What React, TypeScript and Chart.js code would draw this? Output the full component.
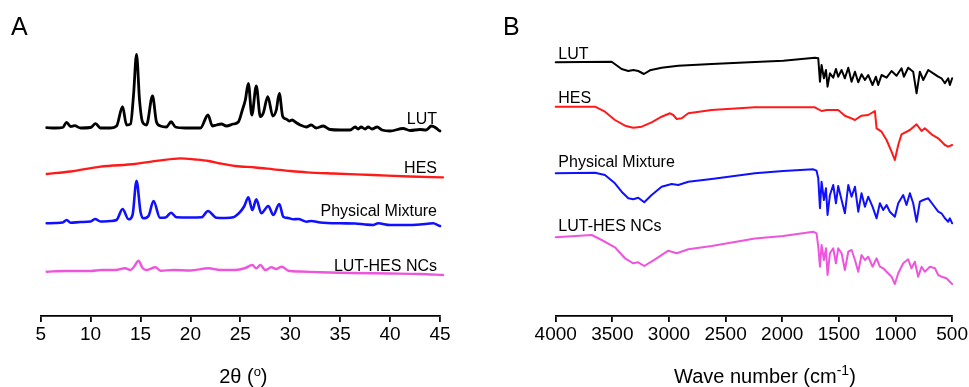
import React, { useEffect, useRef } from "react";
import { Chart, registerables } from "chart.js";

Chart.register(...registerables);

const FONT = "'Liberation Sans', Arial, Helvetica, sans-serif";

// ---------------- Panel A : XRD (2θ in degrees, intensity in a.u., traces stacked) ----------------
const xrdRange = [5, 45];
const xrdStep = 5;

const xrdLUT: [number, number][] = [
  [5.6, 188.3], [6.5, 188], [7.2, 188.5], [7.6, 193.7], [8.0, 189.5], [8.4, 190.3], [9.0, 188], [10.0, 188.5],
  [10.5, 192.3], [11.0, 188], [12.0, 188], [12.6, 190], [13.2, 209.3], [13.6, 191], [14.0, 192], [14.3, 221],
  [14.6, 261.7], [14.9, 216], [15.2, 194], [15.6, 191], [16.2, 220], [16.6, 194], [17.0, 190], [17.6, 189],
  [18.06, 194.3], [18.5, 189], [19.5, 188], [21.0, 188], [21.76, 201], [22.2, 190], [22.6, 191], [23.1, 192],
  [23.6, 190], [24.3, 192], [24.8, 194], [25.2, 206], [25.5, 216], [25.8, 232.7], [26.15, 201], [26.6, 230],
  [27.0, 199.3], [27.3, 203], [27.75, 219.3], [28.25, 200], [28.6, 206], [28.9, 222.7], [29.25, 199.3], [29.6, 197],
  [29.9, 195], [30.2, 196], [30.5, 194], [31.0, 191], [31.6, 189], [32.1, 191], [32.6, 188], [33.3, 190],
  [34.0, 186.5], [35.0, 186], [36.0, 186], [36.5, 189], [36.8, 187], [37.1, 189], [37.5, 187], [37.8, 189],
  [38.2, 187], [38.7, 189], [39.2, 186], [40.0, 185], [41.3, 187.5], [42.0, 185.5], [43.0, 186.5], [43.6, 186],
  [44.15, 190], [44.6, 188], [45.0, 185], [45.3, 185],
];

const xrdHES: [number, number][] = [
  [5.6, 142], [8.0, 144.5], [11.0, 149.3], [14.45, 152], [16.8, 155.3], [19.0, 157.7], [20.5, 156.5],
  [21.8, 155], [23.0, 152.5], [24.5, 150], [26.5, 148.5], [28.3, 146.7], [30.0, 145], [31.65, 143.7],
  [34.3, 142.5], [38.3, 141], [42.0, 139.5], [45.3, 138.7],
];

const xrdPM: [number, number][] = [
  [5.6, 92.7], [6.5, 93], [7.2, 93.5], [7.6, 96], [8.0, 93.3], [9.0, 94], [10.0, 94.5], [10.44, 97],
  [11.0, 94.5], [12.0, 95], [12.6, 96], [13.2, 107], [13.8, 96.7], [14.2, 101], [14.6, 135.3], [15.0, 104],
  [15.3, 97.7], [15.8, 100], [16.3, 115], [16.95, 98.3], [17.5, 98.5], [18.06, 103.3], [18.6, 98.7], [20.0, 98.5],
  [21.1, 98.7], [21.76, 105], [22.6, 98.3], [23.5, 98], [24.3, 98.7], [25.0, 104.3], [25.4, 110], [25.8, 118.7],
  [26.2, 106], [26.6, 116.7], [27.1, 102.7], [27.8, 110], [28.3, 101], [28.9, 112], [29.3, 99.3], [29.8, 98],
  [30.3, 96.7], [30.8, 97], [31.65, 94.3], [32.1, 95], [33.0, 93.5], [35.0, 92.7], [36.5, 92.5], [37.5, 91.5],
  [38.3, 91], [38.8, 92.7], [40.0, 91], [41.5, 91], [43.0, 91.5], [44.3, 92.7], [45.0, 90], [45.3, 89.3],
];

const xrdNC: [number, number][] = [
  [5.6, 44.3], [7.5, 45], [10.0, 45], [11.1, 46], [12.5, 46], [13.45, 47.7], [14.0, 46], [14.4, 50],
  [14.8, 55.3], [15.2, 48], [15.6, 46], [16.5, 48.7], [17.0, 45.3], [18.3, 46], [20.0, 45.5], [21.8, 47.7],
  [23.0, 46], [24.5, 46], [25.5, 48], [26.2, 51], [26.6, 47.7], [27.0, 51], [27.5, 46], [28.1, 48.7],
  [28.6, 47], [29.15, 49.3], [29.8, 45.3], [31.0, 44.5], [33.0, 43.7], [36.0, 43], [40.0, 42.5], [43.0, 42],
  [45.3, 41],
];

// label anchors (data units): [text, 2θ, intensity]
const xrdLabels: [string, number, number][] = [
  ["LUT", 44.7, 192],
  ["HES", 44.7, 143.3],
  ["Physical Mixture", 44.7, 100],
  ["LUT-HES NCs", 44.7, 45.3],
];

// ---------------- Panel B : FTIR (wave number in cm-1, transmittance in a.u., traces stacked) ----------------
const ftirRange = [500, 4000];
const ftirStep = 500;

const ftirLUT: [number, number][] = [
  [4000, 253.7], [3506, 254.3], [3418, 247], [3359, 245], [3315, 246], [3271, 245], [3221, 242], [3168, 245.7],
  [3065, 248.3], [2918, 250.3], [2623, 252], [2241, 254], [1991, 255.3], [1712, 258.3], [1682, 257.7], [1667, 234.3],
  [1653, 251], [1632, 237.7], [1614, 246], [1600, 229.3], [1579, 242.7], [1550, 238.3], [1526, 247], [1506, 239.3],
  [1476, 246], [1447, 237.7], [1417, 248.3], [1388, 234.3], [1358, 244.3], [1329, 233.7], [1300, 241.7], [1270, 236],
  [1241, 241], [1203, 231], [1173, 239.3], [1153, 231], [1123, 241], [1079, 238.3], [1035, 245], [991, 240.3],
  [947, 247.7], [926, 239.3], [888, 248.3], [844, 244.3], [814, 222.7], [785, 244.3], [755, 236], [711, 246],
  [667, 242.7], [623, 239.3], [594, 237.7], [564, 232.7], [535, 237.7], [520, 231], [500, 237.7],
];

const ftirHES: [number, number][] = [
  [4000, 209.3], [3653, 209.3], [3565, 204.3], [3477, 196], [3388, 190.3], [3315, 188.3], [3241, 189.3], [3153, 193.7],
  [3065, 199.3], [2991, 202.7], [2962, 201], [2932, 197], [2888, 197.7], [2829, 202.7], [2623, 206], [2241, 208.7],
  [1712, 208.7], [1653, 205], [1609, 206], [1506, 206], [1447, 200.3], [1403, 198.3], [1358, 196], [1300, 200.3],
  [1241, 201], [1182, 205], [1167, 187.7], [1123, 184.3], [1079, 176], [1035, 164.3], [1006, 156], [976, 171],
  [947, 181.7], [873, 186], [814, 191.7], [770, 185], [741, 187.7], [682, 181.7], [623, 177.7], [564, 171],
  [535, 169.3], [500, 171],
];

const ftirPM: [number, number][] = [
  [4000, 142.7], [3653, 143.3], [3565, 141], [3477, 132.7], [3418, 124.3], [3359, 117.7], [3315, 116.7], [3271, 118.3],
  [3218, 113.7], [3153, 121], [3065, 129.3], [2976, 132], [2918, 131], [2829, 134.3], [2623, 137], [2241, 142.7],
  [1991, 145], [1726, 146.7], [1697, 145.3], [1682, 137.7], [1667, 107.7], [1653, 134.3], [1632, 116], [1614, 127.7],
  [1600, 101], [1579, 121], [1550, 131], [1526, 112.7], [1506, 130], [1476, 116], [1447, 102.7], [1417, 131],
  [1388, 119.3], [1358, 129.3], [1329, 104.3], [1300, 122.7], [1270, 109.3], [1241, 119.3], [1203, 109.3], [1167, 97.7],
  [1138, 112.7], [1108, 106], [1079, 111], [1050, 104.3], [1006, 99.3], [976, 112.7], [932, 121], [903, 111],
  [873, 122.7], [844, 112.7], [814, 94.3], [785, 114.3], [755, 116], [711, 117.7], [667, 111], [623, 104.3],
  [594, 102.7], [564, 97.7], [535, 94.3], [520, 97.7], [500, 92.7],
];

const ftirNC: [number, number][] = [
  [4000, 78.7], [3682, 81], [3594, 76], [3477, 68.7], [3388, 57.7], [3315, 52.7], [3271, 53.7], [3218, 50],
  [3123, 56.7], [3006, 65.3], [2932, 62.7], [2829, 66.7], [2623, 70], [2241, 77.5], [1991, 80], [1726, 84.3],
  [1697, 82.7], [1682, 69.3], [1667, 49.3], [1653, 71], [1632, 56], [1614, 67.7], [1600, 41], [1579, 62.7],
  [1550, 67.7], [1526, 52.7], [1506, 67.7], [1476, 62.7], [1447, 46], [1417, 64.3], [1388, 66], [1358, 56],
  [1329, 44.3], [1300, 61], [1270, 56], [1241, 59.3], [1203, 49.3], [1167, 57.7], [1138, 49.3], [1108, 47.7],
  [1079, 44.3], [1035, 39.3], [1006, 32], [976, 42.7], [932, 52.7], [888, 56.7], [859, 47.7], [829, 54.3],
  [800, 39.3], [770, 49.3], [741, 44.3], [696, 49.3], [652, 47.7], [623, 41], [594, 39.3], [550, 37.7],
  [520, 34.3], [500, 32],
];

const ftirLabels: [string, number, number][] = [
  ["LUT", 3977, 257],
  ["HES", 3977, 213],
  ["Physical Mixture", 3977, 149.5],
  ["LUT-HES NCs", 3977, 85],
];

const seriesNames = ["LUT", "HES", "Physical Mixture", "LUT-HES NCs"];
const seriesColors = ["#000000", "#ff1a1a", "#1010ff", "#ee55dd"];

const W = 969;
const H = 387;

type PanelCfg = {
  letter: string;
  letterX: number;
  series: [number, number][][];
  widths: number[];
  range: number[];
  step: number;
  reverse: boolean;
  monotone: boolean;
  labels: [string, number, number][];
  labelAlign: CanvasTextAlign;
  title: [string, string, string];
  titleShift: number;
  supSize: number;
  supRaise: number;
  padding: { left: number; right: number; top: number; bottom: number };
};

function overlayPlugin(cfg: PanelCfg) {
  return {
    id: "overlay" + cfg.letter,
    afterDraw(chart: any) {
      const ctx: CanvasRenderingContext2D = chart.ctx;
      const xs = chart.scales.x;
      const ys = chart.scales.y;
      const area = chart.chartArea;
      ctx.save();
      ctx.fillStyle = "#000";
      ctx.textBaseline = "alphabetic";
      // panel letter
      ctx.font = `25px ${FONT}`;
      ctx.textAlign = "left";
      ctx.fillText(cfg.letter, cfg.letterX, 35);
      // series labels
      ctx.font = `16px ${FONT}`;
      ctx.textAlign = cfg.labelAlign;
      for (const [t, x, y] of cfg.labels) {
        ctx.fillText(t, xs.getPixelForValue(x), ys.getPixelForValue(y));
      }
      // axis title with superscript
      const [main, sup, tail] = cfg.title;
      ctx.textAlign = "left";
      ctx.font = `20px ${FONT}`;
      const wMain = ctx.measureText(main).width;
      const wTail = ctx.measureText(tail).width;
      ctx.font = `${cfg.supSize}px ${FONT}`;
      const wSup = ctx.measureText(sup).width;
      const total = wMain + wSup + wTail;
      let x0 = (area.left + area.right) / 2 - total / 2 + cfg.titleShift;
      const base = 383;
      ctx.font = `20px ${FONT}`;
      ctx.fillText(main, x0, base);
      ctx.font = `${cfg.supSize}px ${FONT}`;
      ctx.fillText(sup, x0 + wMain, base - cfg.supRaise);
      ctx.font = `20px ${FONT}`;
      ctx.fillText(tail, x0 + wMain + wSup, base);
      ctx.restore();
    },
  };
}

function Panel({ cfg, left, width }: { cfg: PanelCfg; left: number; width: number }) {
  const ref = useRef<HTMLCanvasElement | null>(null);
  useEffect(() => {
    if (!ref.current) return;
    const chart = new Chart(ref.current, {
      type: "line",
      data: {
        datasets: cfg.series.map((s, i) => ({
          label: seriesNames[i],
          data: s.map(([x, y]) => ({ x, y })),
          borderColor: seriesColors[i],
          backgroundColor: seriesColors[i],
          borderWidth: cfg.widths[i],
          pointRadius: 0,
          tension: 0,
          cubicInterpolationMode: cfg.monotone ? "monotone" : "default",
          borderJoinStyle: "round",
          borderCapStyle: "round",
          clip: false,
          fill: false,
        })) as any,
      },
      options: {
        animation: false,
        responsive: false,
        events: [],
        layout: { padding: cfg.padding },
        plugins: { legend: { display: false }, tooltip: { enabled: false }, title: { display: false } },
        scales: {
          x: {
            type: "linear",
            min: cfg.range[0],
            max: cfg.range[1],
            reverse: cfg.reverse,
            grid: {
              display: true,
              drawOnChartArea: false,
              drawTicks: true,
              tickLength: 6,
              color: "#000",
              lineWidth: 1.8,
            },
            border: { display: true, color: "#000", width: 1.8 },
            ticks: {
              stepSize: cfg.step,
              autoSkip: false,
              maxRotation: 0,
              padding: 1,
              color: "#000",
              font: { family: FONT, size: 19 },
              callback: (v: any) => String(v),
            },
            title: { display: false },
          },
          y: { type: "linear", display: false, min: 0, max: 300 },
        },
      },
      plugins: [overlayPlugin(cfg)],
    } as any);
    return () => chart.destroy();
  }, []);
  return (
    <canvas
      ref={ref}
      width={width}
      height={H}
      style={{ position: "absolute", left, top: 0, width, height: H }}
    />
  );
}

const panelA: PanelCfg = {
  letter: "A",
  letterX: 11,
  series: [xrdLUT, xrdHES, xrdPM, xrdNC],
  widths: [2.8, 2.3, 2.6, 2.4],
  range: xrdRange,
  step: xrdStep,
  reverse: false,
  monotone: true,
  labels: xrdLabels,
  labelAlign: "right",
  title: ["2θ (", "o", ")"],
  titleShift: 3,
  supSize: 13,
  supRaise: 7,
  padding: { left: 40.7, right: 50, top: 16, bottom: 40.2 },
};

const panelB: PanelCfg = {
  letter: "B",
  letterX: 13,
  series: [ftirLUT, ftirHES, ftirPM, ftirNC],
  widths: [2, 2, 2, 2],
  range: ftirRange,
  step: ftirStep,
  reverse: true,
  monotone: false,
  labels: ftirLabels,
  labelAlign: "left",
  title: ["Wave number (cm", "-1", ")"],
  titleShift: 11,
  supSize: 14,
  supRaise: 8,
  padding: { left: 65.7, right: 16.7, top: 16, bottom: 40.2 },
};

export default function App() {
  return (
    <div style={{ position: "fixed", left: 0, top: 0, width: W, height: H, background: "#fff", overflow: "hidden" }}>
      <Panel cfg={panelA} left={0} width={490} />
      <Panel cfg={panelB} left={490} width={479} />
    </div>
  );
}
